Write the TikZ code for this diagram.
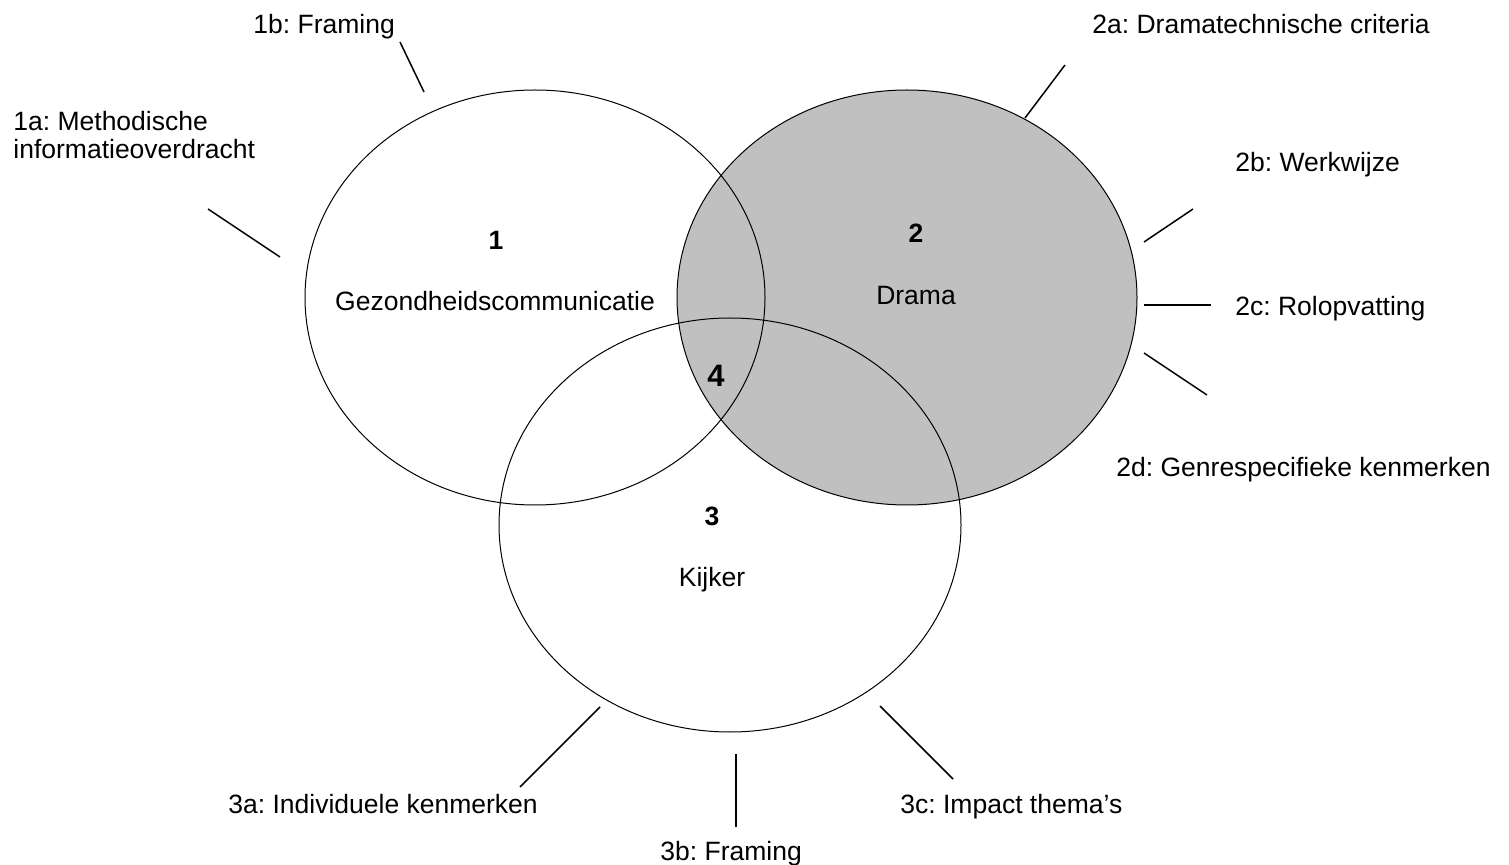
\documentclass[tikz,border=0pt]{standalone}
\usepackage{fontspec}
\setmainfont{Liberation Sans}
\usetikzlibrary{shapes.geometric}
\definecolor{dramagray}{RGB}{192,192,192}
\frenchspacing
\begin{document}
\begin{tikzpicture}[x=0.5pt,y=-0.5pt,
  set/.style={ellipse, draw=black, line width=0.5pt, inner sep=0pt,
              minimum width=230pt, minimum height=207.5pt},
  lbl/.style={font=\fontsize{13.25}{14}\selectfont, inner sep=0pt, anchor=base west},
  ctext/.style={font=\fontsize{13.25}{14}\selectfont, inner sep=0pt, anchor=base},
  num/.style={font=\fontsize{13.25}{14}\selectfont\bfseries, inner sep=0pt, anchor=base},
  spoke/.style={line width=0.75pt}]
\useasboundingbox (0,0) rectangle (1509,865);

% the three sets: Drama is shaded, the others are outlines only
\node[set, fill=dramagray] (drama) at (907,297.5) {};
\node[set] (gezond) at (535,297.5) {};
\node[set, minimum width=231pt, minimum height=207pt] (kijker) at (730,525) {};

% set numbers and names
\node[num] (n1) at (496,250) {1};
\node[ctext] (t1) at (495,311) {Gezondheidscommunicatie};
\node[num] (n2) at (916,243) {2};
\node[ctext] (t2) at (916,305) {Drama};
\node[num, font=\fontsize{15.5}{16}\selectfont\bfseries] (n4) at (716,387) {4};
\node[num] (n3) at (712,526) {3};
\node[ctext] (t3) at (712,586) {Kijker};

% aspect labels (the two-line label sits on the baseline of its last line)
\node[lbl] (l1b) at (253,34) {1b: Framing};
\node[lbl, align=left] (l1a) at (13,159) {1a: Methodische\\informatieoverdracht};
\node[lbl] (l2a) at (1092,34) {2a: Dramatechnische criteria};
\node[lbl] (l2b) at (1235,172) {2b: Werkwijze};
\node[lbl] (l2c) at (1235,316) {2c: Rolopvatting};
\node[lbl] (l2d) at (1116,477) {2d: Genrespecifieke kenmerken};
\node[lbl] (l3a) at (228,813) {3a: Individuele kenmerken};
\node[lbl] (l3b) at (660,860) {3b: Framing};
\node[lbl] (l3c) at (900,813) {3c: Impact thema’s};

% spoke end points
\coordinate (s1bo) at (400,42);   \coordinate (s1bi) at (424,92);
\coordinate (s1ao) at (208,209);  \coordinate (s1ai) at (280,257);
\coordinate (s2ao) at (1065,65);  \coordinate (s2ai) at (1025,118);
\coordinate (s2bo) at (1193,209); \coordinate (s2bi) at (1144,242);
\coordinate (s2co) at (1211,305); \coordinate (s2ci) at (1144,305);
\coordinate (s2do) at (1207,395); \coordinate (s2di) at (1144,353);
\coordinate (s3ao) at (520,787);  \coordinate (s3ai) at (600,707);
\coordinate (s3bo) at (736,827);  \coordinate (s3bi) at (736,754);
\coordinate (s3co) at (953,779);  \coordinate (s3ci) at (880,706);

% spokes
\draw[spoke] (s1bo) -- (s1bi);
\draw[spoke] (s1ao) -- (s1ai);
\draw[spoke] (s2ao) -- (s2ai);
\draw[spoke] (s2bo) -- (s2bi);
\draw[spoke] (s2co) -- (s2ci);
\draw[spoke] (s2do) -- (s2di);
\draw[spoke] (s3ao) -- (s3ai);
\draw[spoke] (s3bo) -- (s3bi);
\draw[spoke] (s3co) -- (s3ci);
\end{tikzpicture}
\end{document}
